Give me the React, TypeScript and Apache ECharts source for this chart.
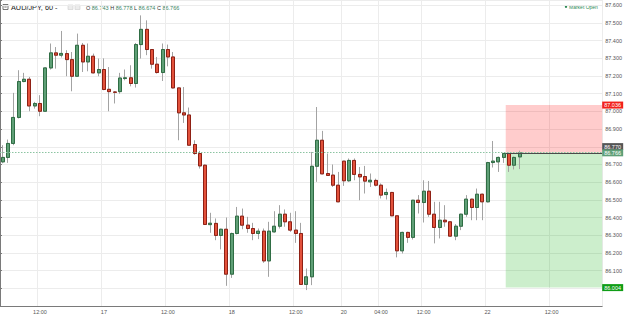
import React, { useEffect, useRef } from 'react';
import * as echarts from 'echarts';

// Hourly AUD/JPY candles (index 0 = 16th 05:00)
const opens = [
  86.715, 86.740, 86.819, 86.966, 87.169, 87.182, 87.031, 87.045, 87.001, 87.246,
  87.331, 87.318, 87.327, 87.293, 87.199, 87.374, 87.280, 87.312, 87.218, 87.237,
  87.125, 87.110, 87.112, 87.186, 87.190, 87.158, 87.378, 87.464, 87.350, 87.267,
  87.220, 87.350, 87.308, 87.133, 86.992, 86.980, 86.813, 86.762, 86.696, 86.360,
  86.367, 86.299, 86.334, 86.080, 86.310, 86.408, 86.357, 86.338, 86.310, 86.323,
  86.155, 86.319, 86.351, 86.419, 86.376, 86.329, 86.310, 86.022, 86.065, 86.690,
  86.837, 86.649, 86.640, 86.583, 86.719, 86.608, 86.723, 86.644, 86.632, 86.602,
  86.610, 86.583, 86.530, 86.542, 86.410, 86.212, 86.316, 86.288, 86.498, 86.485,
  86.549, 86.419, 86.344, 86.385, 86.376, 86.295, 86.351, 86.419, 86.504, 86.457,
  86.532, 86.489, 86.711, 86.715, 86.740, 86.762, 86.696, 86.743,
];
const closes = [
  86.740, 86.819, 86.966, 87.169, 87.182, 87.031, 87.045, 87.001, 87.246, 87.331,
  87.318, 87.328, 87.293, 87.199, 87.374, 87.280, 87.312, 87.218, 87.237, 87.124,
  87.112, 87.108, 87.189, 87.190, 87.158, 87.378, 87.464, 87.350, 87.267, 87.220,
  87.350, 87.308, 87.133, 86.992, 86.980, 86.809, 86.762, 86.692, 86.361, 86.368,
  86.299, 86.334, 86.080, 86.310, 86.408, 86.357, 86.338, 86.310, 86.323, 86.155,
  86.323, 86.351, 86.419, 86.376, 86.329, 86.310, 86.022, 86.065, 86.690, 86.837,
  86.647, 86.638, 86.583, 86.489, 86.608, 86.723, 86.644, 86.630, 86.606, 86.611,
  86.583, 86.527, 86.542, 86.410, 86.212, 86.316, 86.288, 86.498, 86.485, 86.549,
  86.419, 86.344, 86.385, 86.376, 86.295, 86.351, 86.419, 86.504, 86.457, 86.532,
  86.489, 86.711, 86.719, 86.740, 86.762, 86.696, 86.740, 86.766,
];
const lows = [
  86.707, 86.709, 86.809, 86.960, 87.165, 87.001, 87.016, 86.973, 86.998, 87.237,
  87.242, 87.305, 87.199, 87.114, 87.195, 87.223, 87.227, 87.215, 87.199, 87.120,
  87.001, 87.045, 87.100, 87.176, 87.142, 87.135, 87.299, 87.318, 87.242, 87.214,
  87.172, 87.255, 87.130, 86.837, 86.935, 86.805, 86.755, 86.677, 86.358, 86.314,
  86.272, 86.220, 86.014, 86.059, 86.305, 86.334, 86.314, 86.272, 86.278, 86.144,
  86.065, 86.315, 86.338, 86.348, 86.319, 86.257, 86.020, 85.990, 86.018, 86.602,
  86.645, 86.635, 86.573, 86.487, 86.579, 86.602, 86.611, 86.498, 86.536, 86.573,
  86.576, 86.508, 86.502, 86.408, 86.175, 86.197, 86.257, 86.276, 86.423, 86.372,
  86.404, 86.254, 86.282, 86.348, 86.290, 86.272, 86.329, 86.404, 86.385, 86.385,
  86.385, 86.486, 86.683, 86.658, 86.709, 86.658, 86.672, 86.674,
];
const highs = [
  86.809, 86.841, 87.105, 87.233, 87.218, 87.195, 87.054, 87.092, 87.250, 87.384,
  87.364, 87.455, 87.346, 87.336, 87.440, 87.387, 87.384, 87.327, 87.299, 87.300,
  87.251, 87.115, 87.218, 87.237, 87.261, 87.387, 87.543, 87.515, 87.352, 87.308,
  87.384, 87.378, 87.336, 87.135, 87.138, 87.022, 86.837, 86.777, 86.700, 86.427,
  86.395, 86.337, 86.400, 86.315, 86.460, 86.451, 86.404, 86.370, 86.338, 86.338,
  86.376, 86.436, 86.470, 86.446, 86.427, 86.436, 86.370, 86.112, 86.771, 87.025,
  86.890, 86.762, 86.700, 86.658, 86.720, 86.734, 86.734, 86.686, 86.692, 86.649,
  86.620, 86.593, 86.564, 86.545, 86.410, 86.320, 86.320, 86.500, 86.527, 86.611,
  86.607, 86.489, 86.489, 86.470, 86.378, 86.363, 86.422, 86.527, 86.506, 86.564,
  86.535, 86.715, 86.833, 86.745, 86.766, 86.766, 86.745, 86.778,
];

const tickIndex = [7, 19, 31, 43, 55, 64, 71, 79, 91, 103];
const tickLabels = ['12:00', '17', '12:00', '18', '12:00', '20', '04:00', '12:00', '22', '12:00'];

const SLOT_COUNT = 113; // hourly slots incl. empty future space
const lastPrice = 86.766;
const askPrice = 86.77;
const stopPrice = 87.036;
const targetPrice = 86.004;
const boxStartSlot = 94.9;

// price tags on the right axis: value, background, vertical nudge to avoid overlap
const tagPrices = [stopPrice, askPrice, lastPrice, targetPrice];
const tagColors = ['#f2211b', '#555555', '#5f9f78', '#0f9d16'];
const tagNudge = [0, -5.5, 0, 0];

const categories: string[] = [];
for (let i = 0; i < SLOT_COUNT; i++) {
  if (i < 64) {
    const h = 5 + i;
    categories.push(`${16 + Math.floor(h / 24)} ${String(h % 24).padStart(2, '0')}:00`);
  } else {
    const h = 21 + (i - 64);
    categories.push(`${20 + Math.floor(h / 24)} ${String(h % 24).padStart(2, '0')}:00`);
  }
}

const FONT = 'Liberation Sans, Arial, sans-serif';

export default function App() {
  const ref = useRef<HTMLDivElement>(null);
  useEffect(() => {
    if (!ref.current) return;
    const chart = echarts.init(ref.current, null, { renderer: 'svg' });
    const n = opens.length;
    const full = opens.map((o, i) => [o, closes[i], lows[i], highs[i]]);
    const bodies = opens.map((o, i) => [o, closes[i], Math.min(o, closes[i]), Math.max(o, closes[i])]);
    const isTick = (index: number) => tickIndex.indexOf(index) >= 0;
    const last = n - 1;
    const headerGraphics: any[] = [
      { type: 'rect', shape: { x: 3, y: 4.5, width: 5, height: 5 }, style: { fill: 'none', stroke: '#555', lineWidth: 0.8 } },
      { type: 'line', shape: { x1: 4.3, y1: 7, x2: 6.7, y2: 7 }, style: { stroke: '#555', lineWidth: 0.8 } },
      {
        type: 'text',
        x: 11,
        y: 7.3,
        style: { text: 'AUD/JPY, 60 -', fontSize: 7.3, fill: '#222', fontFamily: FONT, verticalAlign: 'middle' },
      },
      { type: 'rect', shape: { x: 68, y: 5, width: 5, height: 4.5 }, style: { fill: '#ececec', stroke: '#cfcfcf', lineWidth: 0.6 } },
      { type: 'rect', shape: { x: 75, y: 5, width: 5, height: 4.5 }, style: { fill: '#ececec', stroke: '#cfcfcf', lineWidth: 0.6 } },
      {
        type: 'text',
        x: 86,
        y: 7.5,
        style: {
          text: `{l|O} {v|${opens[last].toFixed(3)}} {l|H} {v|${highs[last].toFixed(3)}} {l|L} {v|${lows[last].toFixed(3)}} {l|C} {v|${closes[last].toFixed(3)}}`,
          verticalAlign: 'middle',
          fontFamily: FONT,
          fontSize: 5.5,
          rich: {
            l: { fill: '#333', fontSize: 5.5, fontFamily: FONT },
            v: { fill: '#3a8564', fontSize: 5.5, fontFamily: FONT },
          },
        },
      },
      { type: 'circle', shape: { cx: 566, cy: 6.8, r: 1.2 }, style: { fill: '#2e8b57' } },
      {
        type: 'text',
        x: 569,
        y: 7,
        style: { text: 'Market Open', fontSize: 5, fill: '#2e8b57', fontFamily: FONT, verticalAlign: 'middle' },
      },
    ];
    const option: any = {
      animation: false,
      backgroundColor: '#fff',
      textStyle: { fontFamily: FONT },
      grid: { left: -1, right: 21, top: 0, bottom: 10, containLabel: false },
      xAxis: [
        {
          type: 'category',
          data: categories,
          boundaryGap: true,
          axisLine: { lineStyle: { color: '#7a7a7a' } },
          axisTick: { show: false },
          axisLabel: {
            interval: (index: number) => isTick(index),
            formatter: (_v: string, index: number) => {
              const k = tickIndex.indexOf(index);
              return k >= 0 ? tickLabels[k] : '';
            },
            fontSize: 5.5,
            color: '#555',
            margin: 2.5,
            fontFamily: FONT,
          },
          splitLine: {
            show: true,
            interval: (index: number) => isTick(index),
            lineStyle: { color: '#ececec', width: 1 },
          },
        },
        { type: 'value', min: 0, max: SLOT_COUNT, show: false },
      ],
      yAxis: {
        type: 'value',
        position: 'right',
        min: 85.9,
        max: 87.63,
        interval: 0.1,
        axisLine: { show: true, lineStyle: { color: '#7a7a7a' } },
        axisTick: { show: true, length: 2, lineStyle: { color: '#7a7a7a' } },
        axisLabel: {
          fontSize: 5.5,
          color: '#555',
          margin: 3,
          fontFamily: FONT,
          formatter: (v: number) => (v < 85.95 || v > 87.61 ? '' : v.toFixed(3)),
        },
        splitLine: { show: true, lineStyle: { color: '#ececec', width: 1 } },
      },
      series: [
        {
          name: 'box',
          type: 'line',
          xAxisIndex: 1,
          yAxisIndex: 0,
          data: [[boxStartSlot, lastPrice]],
          symbol: 'none',
          lineStyle: { opacity: 0 },
          silent: true,
          z: 1,
          markArea: {
            silent: true,
            data: [
              [
                { xAxis: boxStartSlot, yAxis: stopPrice, itemStyle: { color: 'rgba(255,0,0,0.2)' } },
                { xAxis: SLOT_COUNT, yAxis: lastPrice },
              ],
              [
                { xAxis: boxStartSlot, yAxis: lastPrice, itemStyle: { color: 'rgba(0,170,0,0.2)' } },
                { xAxis: SLOT_COUNT, yAxis: targetPrice },
              ],
            ],
          },
          markLine: {
            silent: true,
            symbol: 'none',
            label: { show: false },
            lineStyle: { color: '#4a4a4a', type: 'solid', width: 1 },
            data: [[{ coord: [boxStartSlot, lastPrice] }, { coord: [SLOT_COUNT, lastPrice] }]],
          },
        },
        {
          name: 'wicks',
          type: 'candlestick',
          xAxisIndex: 0,
          yAxisIndex: 0,
          data: full,
          barWidth: 3.5,
          z: 2,
          itemStyle: {
            color: '#a3a3a3',
            color0: '#a3a3a3',
            borderColor: '#a3a3a3',
            borderColor0: '#a3a3a3',
            borderWidth: 1,
          },
          markLine: {
            silent: true,
            symbol: 'none',
            label: { show: false },
            data: [
              {
                yAxis: lastPrice,
                lineStyle: { color: '#8cc4a2', type: [1.5, 1.5], width: 1 },
              },
            ],
          },
        },
        {
          name: 'bodies',
          type: 'candlestick',
          xAxisIndex: 0,
          yAxisIndex: 0,
          data: bodies,
          barWidth: 3.5,
          z: 3,
          itemStyle: {
            color: '#5f9f76',
            color0: '#e2513b',
            borderColor: '#2f6d44',
            borderColor0: '#8f2014',
            borderWidth: 1,
          },
        },
      ],
      graphic: headerGraphics,
    };
    chart.setOption(option);

    // price tags placed through the axis scales
    const axisX = chart.convertToPixel({ xAxisIndex: 1 }, SLOT_COUNT) as number;
    const tagGraphics: any[] = [];
    tagPrices.forEach((p, k) => {
      const y = (chart.convertToPixel({ yAxisIndex: 0 }, p) as number) + tagNudge[k];
      tagGraphics.push({
        type: 'rect',
        z: 100,
        shape: { x: axisX, y: y - 3.5, width: 21, height: 7 },
        style: { fill: tagColors[k] },
      });
      tagGraphics.push({
        type: 'text',
        z: 101,
        x: axisX + 2,
        y: y + 0.2,
        style: {
          text: p.toFixed(3),
          fill: '#fff',
          fontSize: 5.5,
          fontFamily: FONT,
          verticalAlign: 'middle',
          align: 'left',
        },
      });
    });
    chart.setOption({ graphic: [...headerGraphics, ...tagGraphics] });
    return () => chart.dispose();
  }, []);
  return (
    <div
      ref={ref}
      style={{ position: 'fixed', left: 0, top: 0, width: 625, height: 316, background: '#fff' }}
    />
  );
}
